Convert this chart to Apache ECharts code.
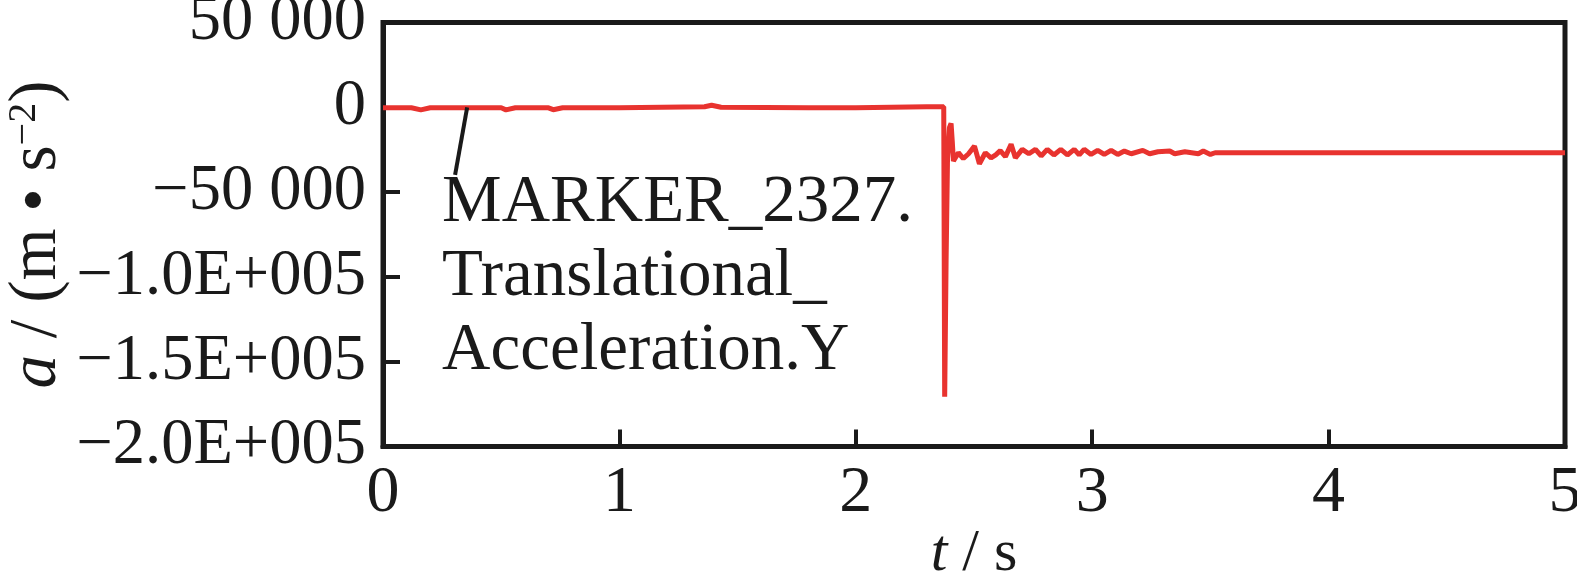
<!DOCTYPE html>
<html>
<head>
<meta charset="utf-8">
<script src="https://cdn.jsdelivr.net/npm/echarts@6/dist/echarts.min.js"></script>
<style>
html,body{margin:0;padding:0;background:#fff;}
#chart{width:1577px;height:572px;}
</style>
</head>
<body>
<div id="chart"></div>
<script>
// time (s)
const times = [
  0, 0.12, 0.16, 0.2, 0.5, 0.52, 0.56, 0.7, 0.72, 0.76, 1.0, 1.36, 1.39, 1.43, 1.8, 2.0, 2.3, 2.372,
  2.376, 2.382, 2.388, 2.396, 2.403, 2.408, 2.413, 2.434, 2.455, 2.477, 2.502, 2.523, 2.548, 2.572,
  2.592, 2.611, 2.633, 2.657, 2.675, 2.704, 2.732, 2.760, 2.784, 2.810, 2.838, 2.867, 2.895, 2.924,
  2.945, 2.966, 2.995, 3.023, 3.051, 3.080, 3.108, 3.136, 3.165, 3.214, 3.243, 3.278, 3.328, 3.349,
  3.392, 3.449, 3.470, 3.50, 3.52, 3.8, 4.2, 4.6, 5.0
];
// acceleration Y (m/s^2)
const accel = [
  -300, -300, -1500, -300, -300, -1500, -300, -300, -1400, -300, -200, 300, 1200, 0, -300, -200, 300, 300,
  -170600, -90000, -30000, -12000, -9500, -20000, -31700, -26800, -30200, -27400, -22900, -33300, -26800, -29800,
  -28000, -25600, -29100, -21800, -29800, -24800, -27400, -24800, -28700, -24800, -28100, -24800, -28100, -24800,
  -28100, -24800, -27800, -25400, -27800, -25400, -27800, -25800, -27400, -25400, -27400, -26200, -25800, -27400,
  -26200, -27400, -25800, -27800, -26800, -26800, -26800, -26800, -26800
];
// tick labels
const xTickLabels = {0:'0',1:'1',2:'2',3:'3',4:'4',5:'5'};
const yTickLabels = {
  '50000':'50 000', '0':'0', '-50000':'\u221250 000',
  '-100000':'\u22121.0E+005', '-150000':'\u22121.5E+005', '-200000':'\u22122.0E+005'
};
const annotationLines = ['MARKER_2327.', 'Translational_', 'Acceleration.Y'];

const FONT = '"Liberation Serif","Times New Roman",serif';
const INK = '#1a1a1a';
const RED = '#e8332f';

const chart = echarts.init(document.getElementById('chart'), null, {renderer:'canvas'});
const data = times.map((t,i)=>[t, accel[i]]);

chart.setOption({
  animation:false,
  backgroundColor:'#fff',
  grid:{left:383, right:12, top:22.5, bottom:125.5, show:true, borderColor:INK, borderWidth:5,
    containLabel:false, outerBoundsMode:'none'},
  xAxis:{
    type:'value', min:0, max:5, interval:1,
    name:'{i|t} / s', nameLocation:'middle', nameGap:78, nameMoveOverlap:false,
    nameTextStyle:{fontFamily:FONT, fontSize:60, color:INK, verticalAlign:'top',
      rich:{i:{fontFamily:FONT, fontStyle:'italic', fontSize:60, color:INK}}},
    axisLine:{show:true, onZero:false, lineStyle:{color:INK, width:5}},
    axisTick:{show:true, inside:true, length:17, lineStyle:{color:INK, width:4}},
    axisLabel:{fontFamily:FONT, fontSize:66, color:INK, margin:14,
      formatter:v=>xTickLabels[v] ?? ''},
    splitLine:{show:false}
  },
  yAxis:{
    type:'value', min:-200000, max:50000, interval:50000,
    name:'{i|a} / (m \u2022 s{sup|\u22122})', nameLocation:'middle', nameGap:312, nameMoveOverlap:false,
    nameTextStyle:{fontFamily:FONT, fontSize:67, color:INK,
      rich:{
        i:{fontFamily:FONT, fontStyle:'italic', fontSize:67, color:INK},
        sup:{fontFamily:FONT, fontSize:40, color:INK, verticalAlign:'top', lineHeight:66}
      }},
    axisLine:{show:true, onZero:false, lineStyle:{color:INK, width:5}},
    axisTick:{show:true, inside:true, length:17, lineStyle:{color:INK, width:4}},
    axisLabel:{fontFamily:FONT, fontSize:64.5, color:INK, margin:17,
      formatter:v=>yTickLabels[String(v)] ?? ''},
    splitLine:{show:false}
  },
  series:[{
    type:'line', data:data, showSymbol:false, symbol:'none',
    lineStyle:{color:RED, width:5}, clip:true,
    markLine:{
      silent:true, symbol:'none', animation:false,
      label:{show:false},
      lineStyle:{color:INK, width:4, type:'solid'},
      data:[[{coord:[0.356, 0]}, {coord:[0.305, -39900]}]]
    },
    markPoint:{
      silent:true, symbol:'circle', symbolSize:0, animation:false,
      data:[{coord:[0.25, -34600]}],
      label:{show:true, position:[0,0], align:'left', verticalAlign:'top',
        fontFamily:FONT, fontSize:67, lineHeight:74, color:INK,
        formatter:()=>annotationLines.join('\n')}
    }
  }]
});
</script>
</body>
</html>
